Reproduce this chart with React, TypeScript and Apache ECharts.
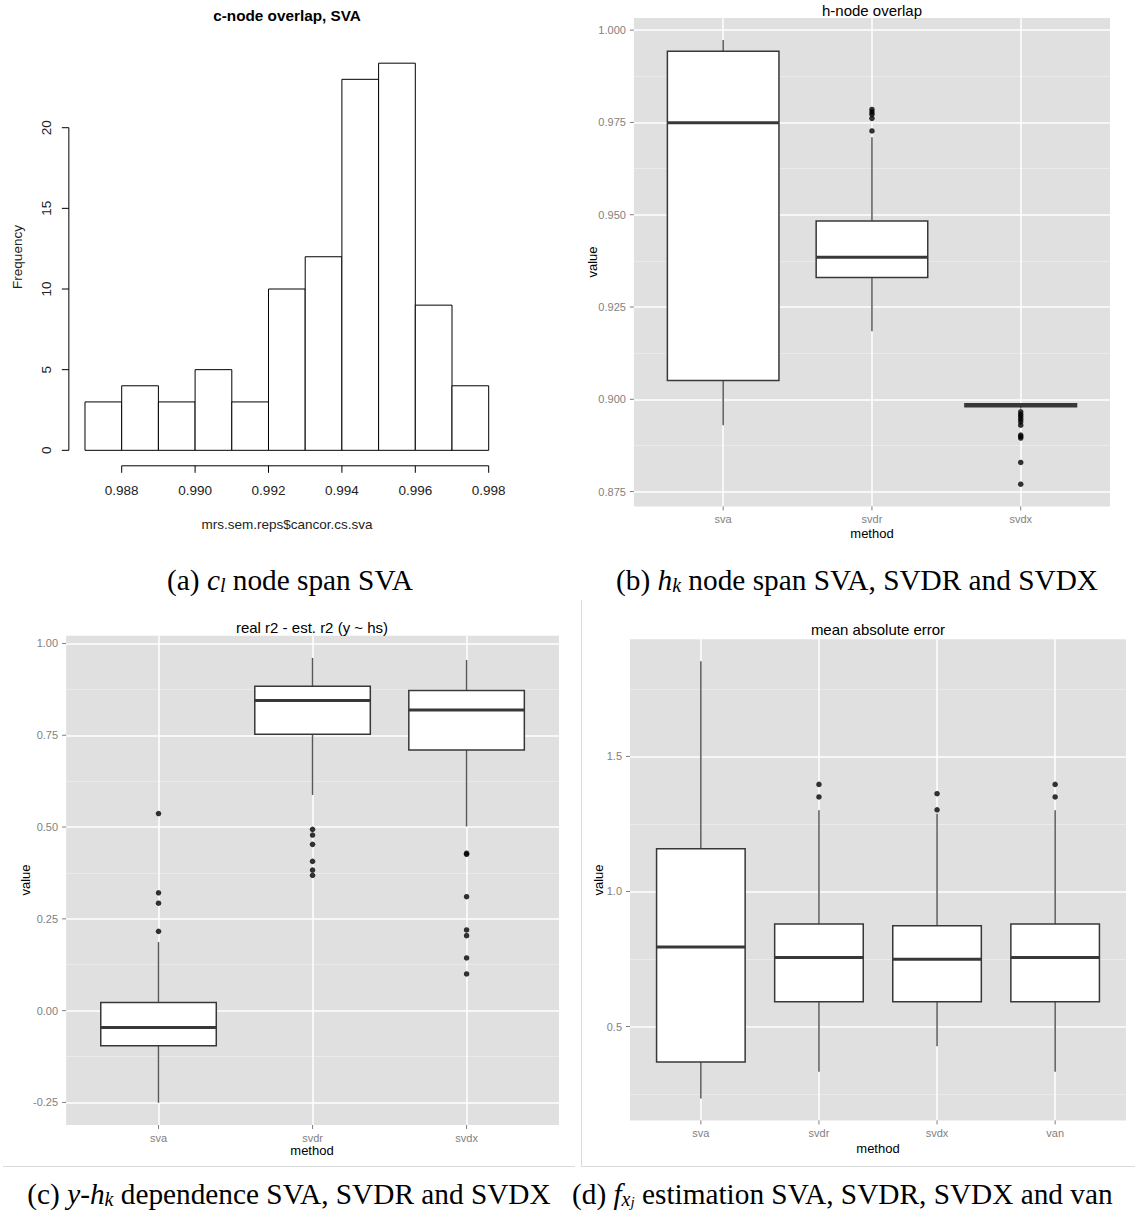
import React, { useEffect, useRef } from 'react';
import * as echarts from 'echarts';

// ---------------- DATA ----------------
// (a) histogram
const histBinEdges = [0.987, 0.988, 0.989, 0.99, 0.991, 0.992, 0.993, 0.994, 0.995, 0.996, 0.997, 0.998];
const histCounts = [3, 4, 3, 5, 3, 10, 12, 23, 24, 9, 4];
const histXTicks = [0.988, 0.99, 0.992, 0.994, 0.996, 0.998];
const histYTicks = [0, 5, 10, 15, 20];

// (b) h-node overlap
const bMethods = ['sva', 'svdr', 'svdx'];
const bLower = [0.893, 0.9184, 0.8975];
const bQ1 = [0.9051, 0.933, 0.898];
const bMedian = [0.9749, 0.9385, 0.8984];
const bQ3 = [0.9943, 0.9483, 0.8988];
const bUpper = [0.9973, 0.971, 0.8988];
const bOutliers = [
  [],
  [0.9785, 0.9778, 0.9772, 0.9761, 0.9727],
  [0.8966, 0.8959, 0.8953, 0.8946, 0.8939, 0.893, 0.8903, 0.8899, 0.8895, 0.8829, 0.877],
];
const bTicks = [0.875, 0.9, 0.925, 0.95, 0.975, 1.0];

// (c) real r2 - est. r2
const cMethods = ['sva', 'svdr', 'svdx'];
const cLower = [-0.2509, 0.5873, 0.5017];
const cQ1 = [-0.0953, 0.7526, 0.7098];
const cMedian = [-0.0457, 0.8449, 0.8187];
const cQ3 = [0.0224, 0.8838, 0.8722];
const cUpper = [0.1867, 0.9606, 0.9548];
const cOutliers = [
  [0.5367, 0.3209, 0.2927, 0.2159],
  [0.4937, 0.4782, 0.4529, 0.4066, 0.383, 0.3685],
  [0.4287, 0.4259, 0.3103, 0.2198, 0.2043, 0.1435, 0.1],
];
const cTicks = [-0.25, 0, 0.25, 0.5, 0.75, 1.0];

// (d) mean absolute error
const dMethods = ['sva', 'svdr', 'svdx', 'van'];
const dLower = [0.2334, 0.3329, 0.4271, 0.3329];
const dQ1 = [0.3687, 0.5915, 0.5915, 0.5915];
const dMedian = [0.7944, 0.756, 0.7493, 0.756];
const dQ3 = [1.1578, 0.8793, 0.8727, 0.8793];
const dUpper = [1.8528, 1.301, 1.2878, 1.301];
const dOutliers = [[], [1.3966, 1.3501], [1.3621, 1.3024], [1.3966, 1.3501]];
const dTicks = [0.5, 1.0, 1.5];

// ---------------- STYLE / LAYOUT ----------------
const SANS = '"Liberation Sans", Arial, Helvetica, sans-serif';
const SERIF = '"Liberation Serif", "Times New Roman", serif';
const PANEL_BG = '#E0E0E0';
const MINOR = '#EAEAEA';
const AXIS_GREY = '#7F7F7F';
const BOX_LINE = '#383838';
const WHISKER = '#595959';

type Rect = { left: number; top: number; width: number; height: number };

const histRect: Rect = { left: 68.85, top: 47.7, width: 436, height: 418.1 };

interface BoxPanel {
  methods: string[];
  lower: number[];
  q1: number[];
  median: number[];
  q3: number[];
  upper: number[];
  outliers: number[][];
  ticks: number[];
  decimals: number;
  rect: Rect;
  title: string;
  titlePos: [number, number];
  methodPos: [number, number];
  valuePos: [number, number];
}

const panels: BoxPanel[] = [
  {
    methods: bMethods, lower: bLower, q1: bQ1, median: bMedian, q3: bQ3, upper: bUpper,
    outliers: bOutliers, ticks: bTicks, decimals: 3,
    rect: { left: 633.9, top: 17.9, width: 476.1, height: 488.5 },
    title: 'h-node overlap', titlePos: [872, 10], methodPos: [872, 533], valuePos: [592, 262],
  },
  {
    methods: cMethods, lower: cLower, q1: cQ1, median: cMedian, q3: cQ3, upper: cUpper,
    outliers: cOutliers, ticks: cTicks, decimals: 2,
    rect: { left: 66.1, top: 635.7, width: 492.9, height: 489.3 },
    title: 'real r2 - est. r2 (y ~ hs)', titlePos: [312, 627.5], methodPos: [312, 1150], valuePos: [25, 880],
  },
  {
    methods: dMethods, lower: dLower, q1: dQ1, median: dMedian, q3: dQ3, upper: dUpper,
    outliers: dOutliers, ticks: dTicks, decimals: 1,
    rect: { left: 630, top: 639.3, width: 496, height: 481.1 },
    title: 'mean absolute error', titlePos: [878, 629.3], methodPos: [878, 1148.2], valuePos: [598.6, 880],
  },
];

function boxRenderItem(params: any, api: any) {
  const x = api.value(0);
  const lo = api.value(1);
  const q1 = api.value(2);
  const med = api.value(3);
  const q3 = api.value(4);
  const hi = api.value(5);
  const hw = 0.375;
  const pLo = api.coord([x, lo]);
  const pHi = api.coord([x, hi]);
  const pA = api.coord([x - hw, q3]);
  const pB = api.coord([x + hw, q1]);
  const mL = api.coord([x - hw, med]);
  const mR = api.coord([x + hw, med]);
  return {
    type: 'group',
    children: [
      { type: 'line', shape: { x1: pHi[0], y1: pHi[1], x2: pHi[0], y2: pA[1] }, style: { stroke: WHISKER, lineWidth: 1.5 } },
      { type: 'line', shape: { x1: pLo[0], y1: pB[1], x2: pLo[0], y2: pLo[1] }, style: { stroke: WHISKER, lineWidth: 1.5 } },
      {
        type: 'rect',
        shape: { x: pA[0], y: pA[1], width: pB[0] - pA[0], height: pB[1] - pA[1] },
        style: { fill: '#FFFFFF', stroke: BOX_LINE, lineWidth: 1.5 },
      },
      { type: 'line', shape: { x1: mL[0], y1: mL[1], x2: mR[0], y2: mR[1] }, style: { stroke: BOX_LINE, lineWidth: 3 } },
    ],
  };
}

function histRenderItem(params: any, api: any) {
  const p0 = api.coord([api.value(0), api.value(2)]);
  const p1 = api.coord([api.value(1), 0]);
  return {
    type: 'rect',
    shape: { x: p0[0], y: p0[1], width: p1[0] - p0[0], height: p1[1] - p0[1] },
    style: { fill: '#FFFFFF', stroke: '#000000', lineWidth: 1 },
  };
}

// tick marks drawn through the axes' scales (dx, dy: pixel direction/length)
function tickSeries(xi: number, yi: number, pts: number[][], dx: number, dy: number, color: string) {
  return {
    type: 'custom', xAxisIndex: xi, yAxisIndex: yi, silent: true, clip: false, z: 4,
    data: pts,
    encode: { x: 0, y: 1 },
    renderItem: (params: any, api: any) => {
      const p = api.coord([api.value(0), api.value(1)]);
      return {
        type: 'line',
        shape: { x1: p[0], y1: p[1], x2: p[0] + dx, y2: p[1] + dy },
        style: { stroke: color, lineWidth: 1 },
      };
    },
  };
}

function buildOption() {
  const grids: any[] = [];
  const xAxes: any[] = [];
  const yAxes: any[] = [];
  const series: any[] = [];
  const graphics: any[] = [];

  // ---- (a) histogram, R base graphics style
  const xr = histBinEdges[histBinEdges.length - 1] - histBinEdges[0];
  const xLo = histBinEdges[0] - 0.04 * xr;
  const xHi = histBinEdges[histBinEdges.length - 1] + 0.04 * xr;
  const maxCount = Math.max(...histCounts);
  const yLo = -0.04 * maxCount;
  const yHi = maxCount * 1.04;
  grids.push({ ...histRect, show: false });
  xAxes.push({
    gridIndex: 0, type: 'value', min: xLo, max: xHi,
    axisLine: { show: false },
    axisTick: { show: false },
    axisLabel: {
      customValues: histXTicks, formatter: (v: number) => v.toFixed(3),
      color: '#222', fontSize: 13.5, fontFamily: SANS, margin: 18,
    },
    splitLine: { show: false },
  });
  yAxes.push({
    gridIndex: 0, type: 'value', min: yLo, max: yHi,
    axisLine: { show: false },
    axisTick: { show: false },
    axisLabel: {
      customValues: histYTicks, formatter: (v: number) => String(v), rotate: 90,
      color: '#222', fontSize: 13.5, fontFamily: SANS, margin: 15,
    },
    splitLine: { show: false },
  });
  series.push({
    type: 'custom', xAxisIndex: 0, yAxisIndex: 0, renderItem: histRenderItem,
    data: histCounts.map((c, i) => [histBinEdges[i], histBinEdges[i + 1], c]),
    encode: { x: [0, 1], y: 2 }, silent: true,
  });
  series.push({
    type: 'line', xAxisIndex: 0, yAxisIndex: 0, symbol: 'none', clip: false, silent: true,
    data: [[xLo, histYTicks[0]], [xLo, histYTicks[histYTicks.length - 1]]],
    lineStyle: { color: '#000', width: 1 },
  });
  series.push({
    type: 'line', xAxisIndex: 0, yAxisIndex: 0, symbol: 'none', clip: false, silent: true,
    data: [[histXTicks[0], yLo], [histXTicks[histXTicks.length - 1], yLo]],
    lineStyle: { color: '#000', width: 1 },
  });
  series.push(tickSeries(0, 0, histXTicks.map((v) => [v, yLo]), 0, 7, '#000'));
  series.push(tickSeries(0, 0, histYTicks.map((v) => [xLo, v]), -7, 0, '#000'));
  graphics.push(
    { type: 'text', x: 287, y: 15, style: { text: 'c-node overlap, SVA', font: `bold 15.3px ${SANS}`, fill: '#000', align: 'center', verticalAlign: 'middle', textAlign: 'center', textVerticalAlign: 'middle' } },
    { type: 'text', x: 287, y: 524, style: { text: 'mrs.sem.reps$cancor.cs.sva', font: `13.5px ${SANS}`, fill: '#222', align: 'center', verticalAlign: 'middle', textAlign: 'center', textVerticalAlign: 'middle' } },
    { type: 'text', x: 17, y: 257, rotation: Math.PI / 2, style: { text: 'Frequency', font: `13.5px ${SANS}`, fill: '#222', align: 'center', verticalAlign: 'middle', textAlign: 'center', textVerticalAlign: 'middle' } },
  );

  // ---- box panels, ggplot2 style
  panels.forEach((p, k) => {
    const g = k + 1;
    grids.push({ ...p.rect, show: true, backgroundColor: PANEL_BG, borderWidth: 0 });
    const n = p.methods.length;
    const cats = p.methods.map((_, i) => i + 1);
    const lo = Math.min(...p.lower, ...p.outliers.flat());
    const hi = Math.max(...p.upper, ...p.outliers.flat());
    const r = hi - lo;
    const yMin = lo - 0.05 * r;
    const yMax = hi + 0.05 * r;
    const step = p.ticks[1] - p.ticks[0];
    const minor: number[] = [];
    [p.ticks[0] - step, ...p.ticks].forEach((t) => {
      const m = t + step / 2;
      if (m > yMin && m < yMax) minor.push(m);
    });
    xAxes.push({
      gridIndex: g, type: 'value', min: 0.4, max: n + 0.6,
      axisLine: { show: false },
      axisTick: { show: false, customValues: cats },
      axisLabel: {
        customValues: cats, formatter: (v: number) => p.methods[Math.round(v) - 1],
        color: AXIS_GREY, fontSize: 11, fontFamily: SANS, margin: 7,
      },
      splitLine: { show: true, lineStyle: { color: '#FFFFFF', width: 1.5 } },
    });
    yAxes.push({
      gridIndex: g, type: 'value', min: yMin, max: yMax, position: 'left',
      axisLine: { show: false },
      axisTick: { show: false, customValues: minor },
      axisLabel: { show: false, customValues: minor },
      splitLine: { show: true, lineStyle: { color: MINOR, width: 1 } },
    });
    const majorIdx = yAxes.length;
    yAxes.push({
      gridIndex: g, type: 'value', min: yMin, max: yMax, position: 'left',
      axisLine: { show: false },
      axisTick: { show: false, customValues: p.ticks },
      axisLabel: {
        customValues: p.ticks, formatter: (v: number) => v.toFixed(p.decimals),
        color: AXIS_GREY, fontSize: 11, fontFamily: SANS, margin: 8,
      },
      splitLine: { show: true, lineStyle: { color: '#FFFFFF', width: 1.5 } },
    });
    series.push({
      type: 'custom', xAxisIndex: g, yAxisIndex: majorIdx, renderItem: boxRenderItem, silent: true,
      data: p.methods.map((_, i) => [i + 1, p.lower[i], p.q1[i], p.median[i], p.q3[i], p.upper[i]]),
      encode: { x: 0, y: [1, 2, 3, 4, 5] },
    });
    const pts: number[][] = [];
    p.outliers.forEach((arr, i) => arr.forEach((v) => pts.push([i + 1, v])));
    series.push({
      type: 'scatter', xAxisIndex: g, yAxisIndex: majorIdx, silent: true,
      data: pts, symbol: 'circle', symbolSize: 5.5, itemStyle: { color: '#000' }, z: 5,
    });
    series.push(tickSeries(g, majorIdx, cats.map((c) => [c, yMin]), 0, 4, AXIS_GREY));
    series.push(tickSeries(g, majorIdx, p.ticks.map((t) => [0.4, t]), -4, 0, AXIS_GREY));
    const txt = (x: number, y: number, text: string, size: number, rot = 0) => ({
      type: 'text', x, y, rotation: rot,
      style: { text, font: `${size}px ${SANS}`, fill: '#000', align: 'center', verticalAlign: 'middle', textAlign: 'center', textVerticalAlign: 'middle' },
    });
    graphics.push(
      txt(p.titlePos[0], p.titlePos[1], p.title, 15),
      txt(p.methodPos[0], p.methodPos[1], 'method', 13),
      txt(p.valuePos[0], p.valuePos[1], 'value', 13, Math.PI / 2),
    );
  });

  // ---- frame lines of the lower images
  const frame = { stroke: '#DADADA', lineWidth: 1 };
  graphics.push(
    { type: 'line', shape: { x1: 581.5, y1: 600, x2: 581.5, y2: 1166.5 }, style: frame },
    { type: 'line', shape: { x1: 3, y1: 1166.5, x2: 575, y2: 1166.5 }, style: frame },
    { type: 'line', shape: { x1: 581.5, y1: 1166.5, x2: 1135, y2: 1166.5 }, style: frame },
  );

  // ---- captions
  const FS = 29.3;
  const capRich = {
    r: { fontFamily: SERIF, fontSize: FS, lineHeight: 30, color: '#000' },
    i: { fontFamily: SERIF, fontSize: FS, fontStyle: 'italic', lineHeight: 30, color: '#000' },
    s: { fontFamily: SERIF, fontSize: 20, fontStyle: 'italic', verticalAlign: 'bottom', lineHeight: 16, color: '#000' },
    ss: { fontFamily: SERIF, fontSize: 15, fontStyle: 'italic', verticalAlign: 'bottom', lineHeight: 8, color: '#000' },
  };
  const cap = (x: number, y: number, text: string, align: string) => ({
    type: 'text', x, y,
    style: { text, rich: capRich, align, verticalAlign: 'middle', textAlign: align, textVerticalAlign: 'middle' },
  });
  graphics.push(
    cap(290, 580, '{r|(a) }{i|c}{s|l}{r| node span SVA}', 'center'),
    cap(857, 580, '{r|(b) }{i|h}{s|k}{r| node span SVA, SVDR and SVDX}', 'center'),
    cap(289, 1194, '{r|(c) }{i|y}{r|-}{i|h}{s|k}{r| dependence SVA, SVDR and SVDX}', 'center'),
    cap(572, 1194, '{r|(d) }{i|f}{s|x}{ss|j}{r| estimation SVA, SVDR, SVDX and van}', 'left'),
  );

  return {
    animation: false,
    backgroundColor: '#FFFFFF',
    grid: grids,
    xAxis: xAxes,
    yAxis: yAxes,
    series,
    graphic: graphics,
  };
}

export default function App() {
  const ref = useRef<HTMLDivElement>(null);
  useEffect(() => {
    if (!ref.current) return;
    const chart = echarts.init(ref.current, undefined, { renderer: 'svg' });
    chart.setOption(buildOption() as any);
    return () => chart.dispose();
  }, []);
  return (
    <div
      ref={ref}
      style={{ position: 'absolute', left: 0, top: 0, width: 1135, height: 1213, background: '#fff' }}
    />
  );
}
